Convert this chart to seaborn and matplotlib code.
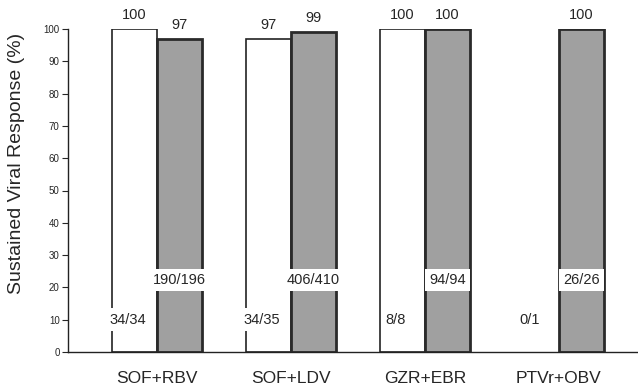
import matplotlib
matplotlib.use("Agg")
import matplotlib.pyplot as plt
import seaborn as sns
import pandas as pd

categories = ["SOF+RBV", "SOF+LDV", "GZR+EBR", "PTVr+OBV"]
series_names = ["A", "B"]
svr_a = [100, 97, 100, 0]
svr_b = [97, 99, 100, 100]
frac_a = ["34/34", "34/35", "8/8", "0/1"]
frac_b = ["190/196", "406/410", "94/94", "26/26"]
yticks = [0, 10, 20, 30, 40, 50, 60, 70, 80, 90, 100]
ylabel = "Sustained Viral Response (%)"

sns.set_style("white")
plt.rcParams["font.family"] = ["Liberation Sans", "DejaVu Sans"]

df = pd.DataFrame({
    "cat": categories * 2,
    "series": [series_names[0]] * 4 + [series_names[1]] * 4,
    "svr": svr_a + svr_b,
})

fig = plt.figure(figsize=(6.38, 3.87), dpi=100)
ax = fig.add_axes([68 / 638, 35 / 387, 1 - 68 / 638, (352 - 29) / 387])

sns.barplot(data=df, x="cat", y="svr", hue="series", order=categories,
            hue_order=series_names, palette=["#ffffff", "#a0a0a0"],
            width=0.67, dodge=True, legend=False, ax=ax, gap=0)

cont_a, cont_b = ax.containers[0], ax.containers[1]
for p in cont_a:
    p.set_edgecolor("#222222")
    p.set_linewidth(1.2)
    if p.get_height() == 0:
        p.set_visible(False)
for p in cont_b:
    p.set_edgecolor("#2a2a2a")
    p.set_linewidth(2.0)

ax.set_xlim(-0.664, 3.59)
ax.set_ylim(0, 100)
ax.set_yticks(yticks)
ax.tick_params(axis="y", labelsize=7, direction="out", length=4, width=0.8,
               left=True, pad=2)
ax.tick_params(axis="x", labelsize=12.5, bottom=False, pad=10)
ax.set_xlabel("")
ax.set_ylabel(ylabel, fontsize=14)
ax.yaxis.set_label_coords(-43 / 570, 0.585)

for s in ["top", "right"]:
    ax.spines[s].set_visible(False)
for s in ["left", "bottom"]:
    ax.spines[s].set_color("#222222")
    ax.spines[s].set_linewidth(1.0)

labels_a = [str(v) if v > 0 else "" for v in svr_a]
ax.bar_label(cont_a, labels=labels_a, padding=5, fontsize=10.5)
ax.bar_label(cont_b, labels=[str(v) for v in svr_b], padding=5, fontsize=10.5)

for p, t in zip(cont_a, frac_a):
    cx = p.get_x() + p.get_width() / 2
    ax.annotate(t, (cx, 10), xytext=(-5, 0), textcoords="offset points",
                ha="center", va="center", fontsize=10.5,
                bbox=dict(boxstyle="square,pad=0.3", fc="white", ec="none"))
for p, t in zip(cont_b, frac_b):
    cx = p.get_x() + p.get_width() / 2
    ax.annotate(t, (cx, 22.3), xytext=(0, 0), textcoords="offset points",
                ha="center", va="center", fontsize=10.5,
                bbox=dict(boxstyle="square,pad=0.3", fc="white", ec="none"))

for t in ax.texts:
    t.set_clip_on(False)

fig.savefig("out.png", dpi=100)
